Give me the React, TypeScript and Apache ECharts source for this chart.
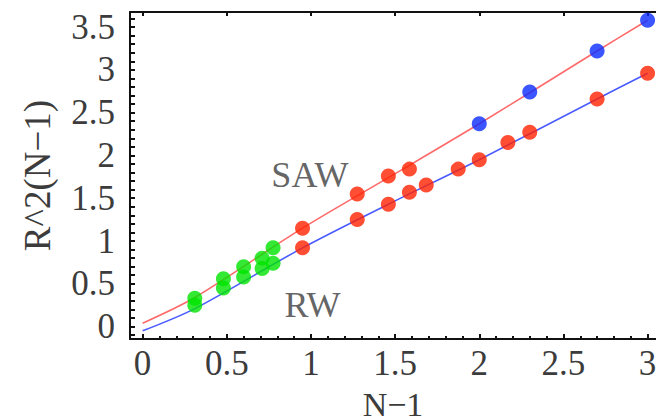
import React, { useEffect, useRef } from "react";
import * as echarts from "echarts";

// Axis ranges and tick positions
const xRange = [-0.075, 3.05];
const yRange = [-0.145, 3.676];
const xMajorTicks = [0, 0.5, 1, 1.5, 2, 2.5, 3];
const xMinorTicks = [
  0.1, 0.2, 0.3, 0.4, 0.6, 0.7, 0.8, 0.9, 1.1, 1.2, 1.3, 1.4, 1.6, 1.7, 1.8, 1.9,
  2.1, 2.2, 2.3, 2.4, 2.6, 2.7, 2.8, 2.9,
];
const yMajorTicks = [0, 0.5, 1, 1.5, 2, 2.5, 3, 3.5];
const yAllTicks = [
  -0.1, 0, 0.1, 0.2, 0.3, 0.4, 0.5, 0.6, 0.7, 0.8, 0.9, 1, 1.1, 1.2, 1.3, 1.4, 1.5,
  1.6, 1.7, 1.8, 1.9, 2, 2.1, 2.2, 2.3, 2.4, 2.5, 2.6, 2.7, 2.8, 2.9, 3, 3.1, 3.2,
  3.3, 3.4, 3.5, 3.6,
];

// Fitted curves
const sawCurveX = [0, 0.31, 0.95, 1.46, 2.0, 2.7, 3.0];
const sawCurveY = [0.04, 0.34, 1.15, 1.74, 2.37, 3.22, 3.58];
const rwCurveX = [0, 0.31, 0.95, 1.46, 2.0, 2.7, 3.0];
const rwCurveY = [-0.05, 0.21, 0.92, 1.43, 1.95, 2.66, 2.96];

// Short-chain data (green)
const greenX = [0.31, 0.48, 0.6, 0.71, 0.775];
const greenSawY = [0.33, 0.56, 0.7, 0.8, 0.92];
const greenRwY = [0.25, 0.45, 0.58, 0.68, 0.74];

// Mid-range data (red)
const redSawX = [0.95, 1.275, 1.46, 1.585];
const redSawY = [1.15, 1.55, 1.76, 1.84];
const redRwX = [0.95, 1.275, 1.46, 1.585, 1.685, 1.875, 2.0, 2.17, 2.3, 2.7, 3.0];
const redRwY = [0.92, 1.25, 1.43, 1.57, 1.655, 1.84, 1.95, 2.15, 2.27, 2.66, 2.96];

// Long-chain data (blue)
const blueSawX = [2.0, 2.3, 2.7, 3.0];
const blueSawY = [2.37, 2.74, 3.22, 3.58];

// Curve labels
const curveLabels = [
  { name: "SAW", x: 0.994, y: 1.77 },
  { name: "RW", x: 1.009, y: 0.254 },
];

const zip = (xs: number[], ys: number[]) => xs.map((x, i) => [x, ys[i]]);

const FONT = "Liberation Serif";
const TEXT_COLOR = "#3c3c3c";
const AXIS_COLOR = "#111";

const frameLine = { show: true, onZero: false, lineStyle: { color: AXIS_COLOR, width: 2 } };
const noLine = { show: false, onZero: false };

export default function App() {
  const ref = useRef<HTMLDivElement>(null);

  useEffect(() => {
    if (!ref.current) return;
    const chart = echarts.init(ref.current, null, { renderer: "svg" });

    const markerSeries = (xs: number[], ys: number[], color: string) => ({
      type: "scatter",
      data: zip(xs, ys),
      symbol: "circle",
      symbolSize: 15,
      itemStyle: { color },
      z: 5,
    });

    const ticks = (values: number[], length: number) => ({
      show: true,
      inside: true,
      length,
      customValues: values,
      lineStyle: { color: AXIS_COLOR, width: 2 },
    });

    chart.setOption({
      animation: false,
      backgroundColor: "#fff",
      grid: {
        left: 130,
        right: 0,
        top: 12,
        bottom: 81,
        containLabel: false,
        outerBoundsMode: "none",
      },
      xAxis: [
        {
          type: "value",
          min: xRange[0],
          max: xRange[1],
          position: "bottom",
          name: "N\u22121",
          nameLocation: "middle",
          nameGap: 50,
          nameMoveOverlap: false,
          nameTextStyle: {
            fontFamily: FONT,
            fontSize: 34,
            lineHeight: 30,
            color: TEXT_COLOR,
          },
          axisLine: frameLine,
          axisTick: ticks(xMajorTicks, 5),
          axisLabel: {
            customValues: xMajorTicks,
            margin: 9,
            fontFamily: FONT,
            fontSize: 35,
            lineHeight: 30,
            color: TEXT_COLOR,
          },
          splitLine: { show: false },
        },
        {
          type: "value",
          min: xRange[0],
          max: xRange[1],
          position: "bottom",
          axisLine: noLine,
          axisTick: ticks(xMinorTicks, 3),
          axisLabel: { show: false },
          splitLine: { show: false },
        },
        {
          type: "value",
          min: xRange[0],
          max: xRange[1],
          position: "top",
          axisLine: frameLine,
          axisTick: ticks(xMajorTicks, 4),
          axisLabel: { show: false },
          splitLine: { show: false },
        },
      ],
      yAxis: [
        {
          type: "value",
          min: yRange[0],
          max: yRange[1],
          position: "left",
          name: "R^2(N\u22121)",
          nameLocation: "middle",
          nameGap: 74,
          nameRotate: 90,
          nameTextStyle: { fontFamily: FONT, fontSize: 37, color: TEXT_COLOR },
          axisLine: frameLine,
          axisTick: ticks(yMajorTicks, 5),
          axisLabel: {
            customValues: yMajorTicks,
            margin: 15,
            fontFamily: FONT,
            fontSize: 35,
            color: TEXT_COLOR,
          },
          splitLine: { show: false },
        },
        {
          type: "value",
          min: yRange[0],
          max: yRange[1],
          position: "left",
          axisLine: noLine,
          axisTick: ticks(yAllTicks, 5),
          axisLabel: { show: false },
          splitLine: { show: false },
        },
      ],
      series: [
        {
          type: "line",
          data: zip(sawCurveX, sawCurveY),
          smooth: 0.3,
          symbol: "none",
          lineStyle: { color: "#ff6a6a", width: 1.6 },
          z: 2,
        },
        {
          type: "line",
          data: zip(rwCurveX, rwCurveY),
          smooth: 0.3,
          symbol: "none",
          lineStyle: { color: "#4a5cff", width: 1.6 },
          z: 2,
        },
        markerSeries(greenX, greenSawY, "#00e400"),
        markerSeries(greenX, greenRwY, "#00e400"),
        markerSeries(redSawX, redSawY, "#ff2200"),
        markerSeries(redRwX, redRwY, "#ff2200"),
        markerSeries(blueSawX, blueSawY, "#0a2cff"),
        {
          type: "scatter",
          symbolSize: 0,
          data: curveLabels.map((l) => ({ name: l.name, value: [l.x, l.y] })),
          label: {
            show: true,
            position: "inside",
            formatter: "{b}",
            fontFamily: FONT,
            fontSize: 36,
            color: TEXT_COLOR,
          },
          z: 6,
        },
      ],
    });

    return () => chart.dispose();
  }, []);

  return (
    <div
      ref={ref}
      style={{ position: "fixed", left: 0, top: 0, width: 656, height: 420 }}
    />
  );
}
